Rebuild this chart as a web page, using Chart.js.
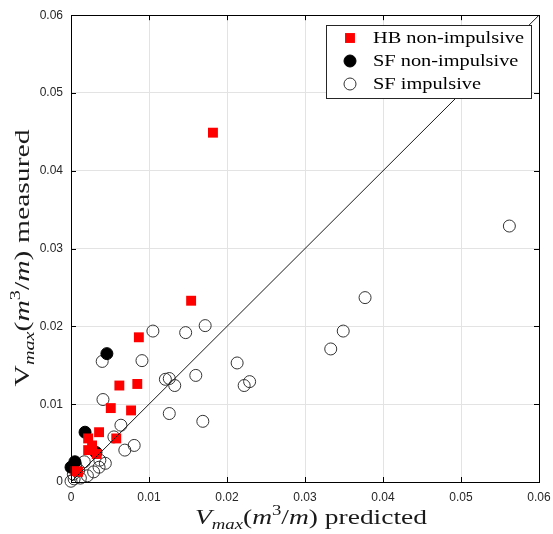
<!DOCTYPE html>
<html>
<head>
<meta charset="utf-8">
<script src="https://cdn.jsdelivr.net/npm/chart.js@4.4.1/dist/chart.umd.min.js"></script>
<style>
  html, body { margin: 0; padding: 0; background: #fff; }
  #wrap { width: 553px; height: 534px; }
</style>
</head>
<body>
<div id="wrap"><canvas id="chart"></canvas></div>
<script>
// tick labels for both axes
var tickLabels = ["0", "0.01", "0.02", "0.03", "0.04", "0.05", "0.06"];

// HB non-impulsive
var hbPredicted = [0.0182, 0.0154, 0.0087, 0.0062, 0.0085, 0.0077, 0.0051, 0.0058, 0.0036, 0.0022, 0.0027, 0.0022, 0.0033, 0.0006, 0.0009];
var hbMeasured  = [0.0449, 0.0233, 0.0186, 0.0124, 0.0126, 0.0092, 0.0095, 0.0056, 0.0064, 0.0056, 0.0047, 0.0041, 0.0036, 0.0014, 0.0013];

// SF non-impulsive
var sfnPredicted = [0.0046, 0.0018, 0.0032, 0.0005, 0.0000];
var sfnMeasured  = [0.0165, 0.0064, 0.0038, 0.0026, 0.0019];

// SF impulsive
var sfiPredicted = [0.0562, 0.0377, 0.0349, 0.0333, 0.0105, 0.0147, 0.0172, 0.0091, 0.0213, 0.0121, 0.0126, 0.0133, 0.0160, 0.0229, 0.0222, 0.0126, 0.0169,
                    0.0040, 0.0041, 0.0064, 0.0055, 0.0069, 0.0081, 0.0037, 0.0044, 0.0036, 0.0029, 0.0021, 0.0012, 0.0004, 0.0000, 0.0006, 0.0010, 0.0003, 0.0017];
var sfiMeasured  = [0.0329, 0.0237, 0.0194, 0.0171, 0.0194, 0.0192, 0.0201, 0.0156, 0.0153, 0.0132, 0.0133, 0.0124, 0.0137, 0.0129, 0.0124, 0.0088, 0.0078,
                    0.0155, 0.0106, 0.0073, 0.0058, 0.0041, 0.0047, 0.0028, 0.0024, 0.0019, 0.0013, 0.0008, 0.0005, 0.0004, 0.0001, 0.0022, 0.0015, 0.0010, 0.0026];

// 1:1 reference line
var lineX = [0, 0.06];
var lineY = [0, 0.06];

function pts(xs, ys) {
  return xs.map(function (x, i) { return { x: x, y: ys[i] }; });
}

var seriesNames = ["HB non-impulsive", "SF non-impulsive", "SF impulsive"];
var SERIF = '"Liberation Serif", "DejaVu Serif", serif';

// axis titles drawn as pieces so subscript/superscript look right
function titleParts(word, italicV) {
  return [
    { t: "V", it: italicV, s: 22, dy: 0 },
    { t: "max", it: true, s: 15, dy: 5 },
    { t: "(", it: false, s: 22, dy: 0 },
    { t: "m", it: true, s: 22, dy: 0 },
    { t: "3", it: false, s: 15, dy: -9 },
    { t: "/", it: false, s: 22, dy: 0 },
    { t: "m", it: true, s: 22, dy: 0 },
    { t: ")", it: false, s: 22, dy: 0 },
    { t: " " + word, it: false, s: 22, dy: 0 }
  ];
}

// draws the pieces centred on cx, stretched to the wanted width
function drawParts(ctx, parts, cx, cy, wanted) {
  var w = 0;
  parts.forEach(function (p) {
    ctx.font = (p.it ? "italic " : "") + p.s + "px " + SERIF;
    p.w = ctx.measureText(p.t).width;
    w += p.w;
  });
  var k = wanted / w;
  ctx.save();
  ctx.translate(cx - wanted / 2, cy);
  ctx.scale(k, 1);
  var x = 0;
  ctx.fillStyle = "#1a1a1a";
  ctx.textBaseline = "alphabetic";
  ctx.textAlign = "left";
  parts.forEach(function (p) {
    ctx.font = (p.it ? "italic " : "") + p.s + "px " + SERIF;
    ctx.fillText(p.t, x, p.dy);
    x += p.w;
  });
  ctx.restore();
}

var framePlugin = {
  id: "frame",
  afterDraw: function (chart) {
    var ctx = chart.ctx, a = chart.chartArea;
    var xs = chart.scales.x, ys = chart.scales.y;
    ctx.save();
    // box
    ctx.strokeStyle = "#000";
    ctx.lineWidth = 1;
    ctx.strokeRect(Math.round(a.left) + 0.5, Math.round(a.top) + 0.5,
                   Math.round(a.right - a.left), Math.round(a.bottom - a.top));
    // inward ticks
    ctx.beginPath();
    for (var i = 0; i < tickLabels.length; i++) {
      var v = parseFloat(tickLabels[i]);
      var px = Math.round(xs.getPixelForValue(v)) + 0.5;
      var py = Math.round(ys.getPixelForValue(v)) + 0.5;
      ctx.moveTo(px, a.bottom); ctx.lineTo(px, a.bottom - 5);
      ctx.moveTo(px, a.top); ctx.lineTo(px, a.top + 5);
      ctx.moveTo(a.left, py); ctx.lineTo(a.left + 5, py);
      ctx.moveTo(a.right, py); ctx.lineTo(a.right - 5, py);
    }
    ctx.stroke();

    // legend box
    var lx = 326, ly = 25, lw = 205, lh = 73;
    ctx.fillStyle = "#fff";
    ctx.fillRect(lx, ly, lw, lh);
    ctx.strokeStyle = "#262626";
    ctx.strokeRect(lx + 0.5, ly + 0.5, lw, lh);
    var rows = [38, 61, 84];
    ctx.font = "17px " + SERIF;
    var k = 151 / ctx.measureText(seriesNames[0]).width;
    for (var r = 0; r < 3; r++) {
      var ds = chart.data.datasets[r];
      var style = {
        pointStyle: ds.pointStyle, rotation: 0, radius: ds.pointRadius,
        borderWidth: ds.borderWidth
      };
      ctx.fillStyle = ds.backgroundColor;
      ctx.strokeStyle = ds.borderColor;
      ctx.lineWidth = ds.borderWidth;
      Chart.helpers.drawPoint(ctx, style, 350, rows[r]);
      ctx.save();
      ctx.translate(373, rows[r] + 1);
      ctx.scale(k, 1);
      ctx.fillStyle = "#000";
      ctx.font = "17px " + SERIF;
      ctx.textAlign = "left";
      ctx.textBaseline = "middle";
      ctx.fillText(seriesNames[r], 0, 0);
      ctx.restore();
    }

    // axis titles
    drawParts(ctx, titleParts("predicted", true), 311, 524, 232);
    ctx.translate(29, 258);
    ctx.rotate(-Math.PI / 2);
    drawParts(ctx, titleParts("measured", false), 0, 0, 257);
    ctx.restore();
  }
};

var tickFont = { family: '"Liberation Sans", Arial, sans-serif', size: 12 };

var ctx = document.getElementById("chart");
var chart = new Chart(ctx, {
  type: "scatter",
  data: {
    datasets: [
      {
        label: seriesNames[0],
        data: pts(hbPredicted, hbMeasured),
        pointStyle: "rect",
        pointRadius: 7,
        backgroundColor: "#ff0000",
        borderColor: "#ff0000",
        borderWidth: 0,
        clip: false,
        order: 1
      },
      {
        label: seriesNames[1],
        data: pts(sfnPredicted, sfnMeasured),
        pointStyle: "circle",
        pointRadius: 6,
        backgroundColor: "#000000",
        borderColor: "#000000",
        borderWidth: 1,
        clip: false,
        order: 2
      },
      {
        label: seriesNames[2],
        data: pts(sfiPredicted, sfiMeasured),
        pointStyle: "circle",
        pointRadius: 6,
        backgroundColor: "rgba(255,255,255,0)",
        borderColor: "#333333",
        borderWidth: 1,
        clip: false,
        order: 3
      },
      {
        type: "line",
        label: "1:1",
        data: pts(lineX, lineY),
        borderColor: "#1a1a1a",
        borderWidth: 1,
        pointRadius: 0,
        showLine: true,
        order: 0
      }
    ]
  },
  plugins: [framePlugin],
  options: {
    responsive: true,
    maintainAspectRatio: false,
    animation: false,
    layout: { padding: { top: 14, right: 14, left: 0, bottom: 0 } },
    plugins: {
      legend: { display: false },
      tooltip: { enabled: false }
    },
    scales: {
      x: {
        type: "linear",
        min: 0, max: 0.06,
        afterFit: function (s) { s.height = 52; s.paddingLeft = 0; s.paddingRight = 0; },
        afterBuildTicks: function (s) {
          s.ticks = tickLabels.map(function (t) { return { value: parseFloat(t) }; });
        },
        ticks: {
          padding: 8,
          color: "#262626",
          font: tickFont,
          callback: function (v, i) { return tickLabels[i]; }
        },
        grid: { color: "#e3e3e3", drawTicks: false },
        border: { display: false }
      },
      y: {
        type: "linear",
        min: 0, max: 0.06,
        afterFit: function (s) { s.width = 71; },
        afterBuildTicks: function (s) {
          s.ticks = tickLabels.map(function (t) { return { value: parseFloat(t) }; });
        },
        ticks: {
          padding: 8,
          color: "#262626",
          font: tickFont,
          callback: function (v, i) { return tickLabels[i]; }
        },
        grid: { color: "#e3e3e3", drawTicks: false },
        border: { display: false }
      }
    }
  }
});
</script>
</body>
</html>
